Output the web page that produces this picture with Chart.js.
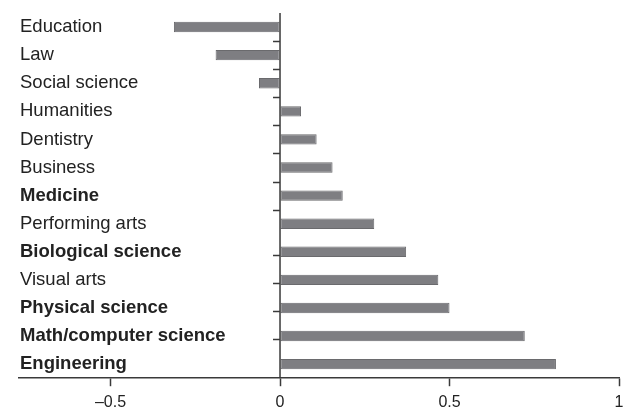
<!DOCTYPE html>
<html>
<head>
<meta charset="utf-8">
<script src="https://cdn.jsdelivr.net/npm/chart.js@4"></script>
<style>
  html, body { margin: 0; padding: 0; background: #fff; }
  #chart { display: block; }
</style>
</head>
<body>
<canvas id="chart" width="630" height="409"></canvas>
<script>
const fields = [
    'Education', 'Law', 'Social science', 'Humanities', 'Dentistry', 'Business',
    'Medicine', 'Performing arts', 'Biological science', 'Visual arts',
    'Physical science', 'Math/computer science', 'Engineering'
];
const values = [
    -0.313, -0.19, -0.062, 0.062, 0.108, 0.155,
    0.185, 0.278, 0.372, 0.467, 0.50, 0.722, 0.814
];
const boldFields = [
    'Medicine', 'Biological science', 'Physical science',
    'Math/computer science', 'Engineering'
];
const xTicks = [-0.5, 0, 0.5, 1];
// small marks on the zero line, in category-index units
const rowMarks = [0.5, 1.5, 2.5, 3.5, 4.5, 5.5, 6.5, 8.1, 9.1, 10.1, 11.1];

const fontFamily = '"Liberation Sans", Arial, Helvetica, sans-serif';

// vertical line at zero with the row marks
const zeroLine = {
    id: 'zeroLine',
    afterDatasetsDraw(chart) {
        const { ctx, chartArea, scales } = chart;
        const x0 = scales.x.getPixelForValue(0);
        ctx.save();
        ctx.strokeStyle = '#3a3a3a';
        ctx.lineWidth = 1.5;
        ctx.beginPath();
        ctx.moveTo(x0, chartArea.top);
        ctx.lineTo(x0, chartArea.bottom);
        rowMarks.forEach(m => {
            const y = Math.round(scales.y.getPixelForValue(m)) + 0.5;
            ctx.moveTo(x0 - 7, y);
            ctx.lineTo(x0, y);
        });
        ctx.stroke();
        ctx.restore();
    }
};

new Chart(document.getElementById('chart'), {
    type: 'bar',
    data: {
        labels: fields,
        datasets: [{
            data: values,
            backgroundColor: '#7e7e82',
            borderColor: '#6a6a6d',
            borderWidth: 1,
            borderSkipped: false,
            barPercentage: 0.37,
            categoryPercentage: 1
        }]
    },
    options: {
        indexAxis: 'y',
        responsive: false,
        devicePixelRatio: 1,
        animation: false,
        layout: { padding: { left: 9, right: 11, top: 13, bottom: -10 } },
        plugins: {
            legend: { display: false },
            tooltip: { enabled: false }
        },
        scales: {
            x: {
                min: -0.77,
                max: 1,
                afterBuildTicks: scale => {
                    scale.ticks = xTicks.map(v => ({ value: v }));
                },
                // the "1" label fits inside the right padding
                afterFit: scale => {
                    scale.paddingLeft = 0;
                    scale.paddingRight = 0;
                },
                grid: {
                    drawOnChartArea: false,
                    drawTicks: true,
                    tickLength: 8,
                    tickWidth: 1.5,
                    tickColor: '#3a3a3a'
                },
                border: { display: true, color: '#3a3a3a', width: 1.5 },
                ticks: {
                    color: '#222',
                    padding: 10,
                    font: { family: fontFamily, size: 16, lineHeight: 0.8 },
                    callback: v => (v < 0 ? '\u2013' + Math.abs(v) : String(v))
                }
            },
            y: {
                grid: { display: false },
                border: { display: false },
                ticks: {
                    mirror: true,
                    padding: 1,
                    color: '#222',
                    font: ctx => ({
                        family: fontFamily,
                        size: 18.5,
                        weight: boldFields.includes(fields[ctx.index]) ? 'bold' : 'normal'
                    })
                }
            }
        }
    },
    plugins: [zeroLine]
});
</script>
</body>
</html>
